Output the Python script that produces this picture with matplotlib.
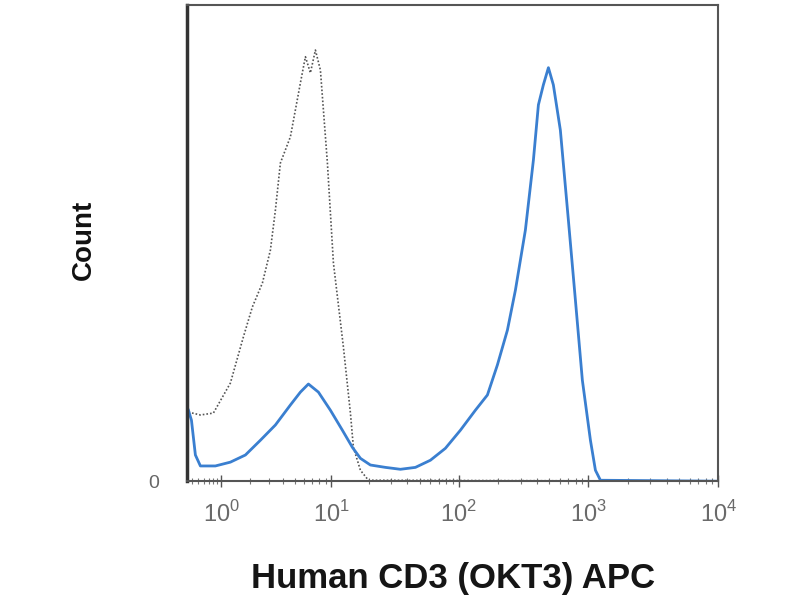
import matplotlib
matplotlib.use("Agg")
import matplotlib.pyplot as plt
import numpy as np
from matplotlib.ticker import LogLocator, FixedLocator, FixedFormatter, NullFormatter

plt.rcParams['font.family'] = ['Liberation Sans', 'DejaVu Sans']
plt.rcParams['mathtext.fontset'] = 'custom'
plt.rcParams['mathtext.rm'] = 'Liberation Sans'

# Isotype control (gray dotted)
ctrl_x = [0.338, 0.536, 0.804, 1.262, 1.719, 2.103, 2.607, 3.079, 3.411, 3.773, 4.602,
          5.59, 6.155, 6.771, 7.443, 8.179, 9.324, 10.43, 12.54, 14.27, 15.07, 17.13,
          19.81, 10000]
ctrl_y = [14.5, 13.9, 14.3, 20.6, 30.3, 36.6, 41.6, 48.5, 56.9, 66.8, 72.3,
          83.6, 89.1, 85.7, 90.5, 86.3, 66.8, 45.8, 28.2, 14.3, 7.1, 2.3,
          0.2, 0.0]

# CD3 stained (blue)
cd3_x = [0.338, 0.384, 0.448, 0.536, 0.851, 1.262, 1.799, 2.50, 3.411, 4.602, 5.59, 6.518,
         7.877, 9.86, 12.31, 14.80, 17.13, 20.54, 26.95, 35.29, 46.2, 60.4, 78.9, 103.1,
         134.6, 166.7, 199, 237.7, 274, 327, 377, 412, 450, 492, 537, 608, 701, 794, 898,
         1036, 1132, 1237, 10000]
cd3_y = [14.9, 12.8, 5.5, 3.2, 3.2, 4.0, 5.5, 8.6, 11.8, 16.0, 18.7, 20.4,
         18.7, 14.9, 10.7, 7.1, 4.8, 3.4, 2.9, 2.5, 2.9, 4.4, 6.9, 10.7,
         14.9, 18.1, 24.4, 31.7, 40.1, 52.7, 67.4, 79.0, 83.2, 86.8, 83.2, 73.7, 54.8, 38.0, 21.2,
         8.6, 2.3, 0.2, 0.0]

x_ticks = [1, 10, 100, 1000, 10000]
x_tick_labels = [r'$10^{0}$', r'$10^{1}$', r'$10^{2}$', r'$10^{3}$', r'$10^{4}$']

OFFSET = 0.5


def fwd(x):
    return np.log10(np.clip(np.asarray(x, dtype=float) + OFFSET, 1e-6, None))


def inv(y):
    return 10 ** np.asarray(y, dtype=float) - OFFSET


fig = plt.figure(figsize=(8, 6), dpi=100)
ax = fig.add_axes([0.234, 0.198, 0.664, 0.794])

ax.plot(ctrl_x, ctrl_y, color='#555555', lw=1.2, ls=(0, (1, 1.2)))
ax.plot(cd3_x, cd3_y, color='#3a7fd0', lw=2.0)

ax.set_xscale('function', functions=(fwd, inv))
ax.set_xlim(0.32, 10000)
ax.set_ylim(0, 100)

ax.xaxis.set_major_locator(FixedLocator(x_ticks))
ax.xaxis.set_major_formatter(FixedFormatter(x_tick_labels))
ax.xaxis.set_minor_locator(LogLocator(base=10, subs=range(2, 10), numticks=20))
ax.xaxis.set_minor_formatter(NullFormatter())
ax.tick_params(axis='x', which='major', direction='inout', length=8, width=1.0,
               color='#555555', labelsize=17, labelcolor='#6a6a6a', pad=10)
ax.tick_params(axis='x', which='minor', direction='inout', length=5, width=0.8, color='#777777')

ax.set_yticks([0])
ax.set_yticklabels(['0'])
ax.tick_params(axis='y', which='major', length=0, labelsize=14, labelcolor='#666666', pad=20)

for side in ['top', 'right', 'bottom']:
    ax.spines[side].set_color('#555555')
    ax.spines[side].set_linewidth(1.5)
ax.spines['left'].set_color('#333333')
ax.spines['left'].set_linewidth(2.5)

ax.set_xlabel('Human CD3 (OKT3) APC', fontsize=25, fontweight='bold', color='#151515')
ax.xaxis.set_label_coords(0.5, -0.17)
ax.set_ylabel('Count', fontsize=20, fontweight='bold', color='#111111')
ax.yaxis.set_label_coords(-0.17, 0.506)

fig.savefig('out.png', dpi=100)
